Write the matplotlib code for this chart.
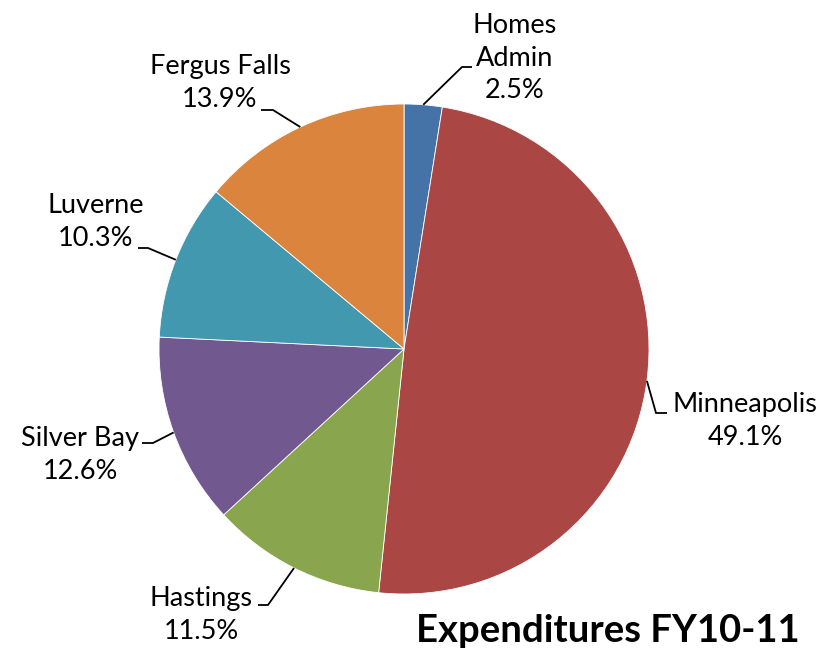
import numpy as np
import matplotlib
matplotlib.use("Agg")
import matplotlib.pyplot as plt

labels = ["Homes\nAdmin", "Minneapolis", "Hastings", "Silver Bay", "Luverne", "Fergus Falls"]
values = [2.5, 49.1, 11.5, 12.6, 10.3, 13.9]
colors = ["#4572A7", "#AA4643", "#89A54E", "#71588F", "#4198AF", "#DB843D"]
title = "Expenditures FY10-11"

W, H = 836, 652
fig = plt.figure(figsize=(W / 100, H / 100), dpi=100)
ax = fig.add_axes([0, 0, 1, 1])
ax.set_xlim(0, W)
ax.set_ylim(0, H)
ax.set_aspect("equal")
ax.axis("off")

def fy(y):
    return H - y

cx, cy, R = 404, fy(349), 245
wedges, _ = ax.pie(values, colors=colors, startangle=90, counterclock=False,
                   center=(cx, cy), radius=R, normalize=True,
                   wedgeprops=dict(linewidth=0.6, edgecolor="white"))
ax.set_xlim(0, W)
ax.set_ylim(0, H)

font = "Lato"
# label layout: (text center x, text center y, elbow x, elbow y, horizontal end x)
layout = [
    (515, 58, 462, 67, 472),
    (745, 421, 656, 413, 667),
    (201, 615, 268, 605, 258),
    (80, 455, 153, 443, 142),
    (96, 222, 148, 248, 138),
    (220, 83, 273, 110, 261),
]
for w, lab, v, (tx, ty, ex, ey, hx) in zip(wedges, labels, values, layout):
    ang = np.deg2rad((w.theta1 + w.theta2) / 2)
    px, py = cx + R * np.cos(ang), cy + R * np.sin(ang)
    ax.plot([px, ex, hx], [py, fy(ey), fy(ey)], color="black", lw=1.3,
            solid_capstyle="butt", solid_joinstyle="miter")
    ax.text(tx, fy(ty), f"{lab}\n{v:.1f}%", ha="center", va="center",
            fontsize=19.5, family=font, linespacing=1.38, color="black")

ax.text(800, fy(631), title, ha="right", va="center", fontsize=27.5,
        fontweight="bold", family=font, color="black")

fig.savefig("out.png", dpi=100)
